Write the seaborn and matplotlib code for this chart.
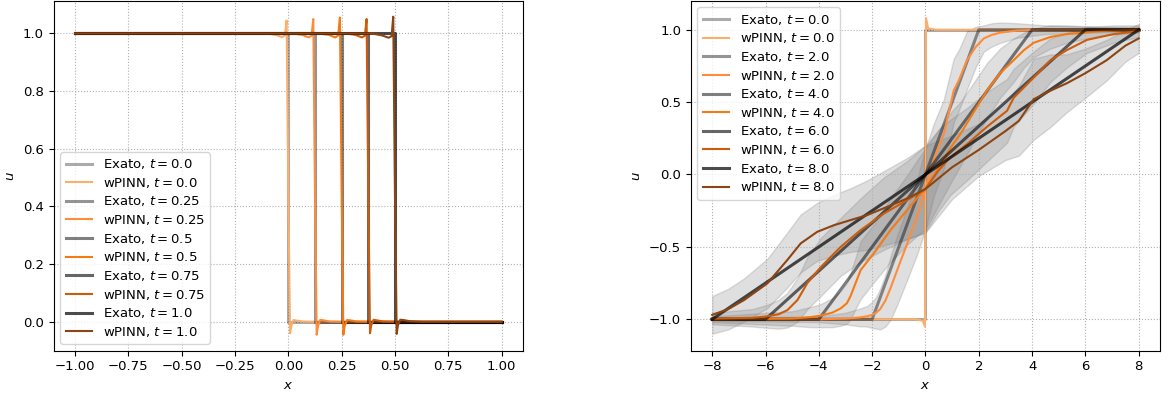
import matplotlib
matplotlib.use("Agg")
import matplotlib.pyplot as plt
import seaborn as sns

plt.rcParams["font.size"] = 9.5

# --- left panel: shock (t = 0 .. 1) ---
t_left = ["0.0", "0.25", "0.5", "0.75", "1.0"]
shock_pos = [0.0, 0.125, 0.25, 0.375, 0.5]

# wPINN curves
xw_left = [
    [-1.0, -0.10, -0.06, -0.03, -0.016, -0.008, 0.0, 0.008, 0.014, 0.024, 0.04, 0.07, 0.12, 1.0],
    [-1.0, 0.02, 0.065, 0.095, 0.109, 0.117, 0.125, 0.133, 0.139, 0.15, 0.165, 0.195, 0.25, 1.0],
    [-1.0, 0.14, 0.19, 0.22, 0.234, 0.242, 0.25, 0.258, 0.264, 0.275, 0.29, 0.32, 0.38, 1.0],
    [-1.0, 0.27, 0.315, 0.345, 0.359, 0.367, 0.375, 0.383, 0.389, 0.40, 0.415, 0.445, 0.5, 1.0],
    [-1.0, 0.39, 0.44, 0.47, 0.484, 0.492, 0.50, 0.508, 0.514, 0.525, 0.54, 0.57, 0.63, 1.0],
]
uw_left = [
    [1.0, 1.0, 0.995, 0.987, 0.993, 1.045, 0.45, -0.04, -0.015, 0.006, 0.004, 0.001, 0.0, 0.0],
    [1.0, 1.0, 0.995, 0.986, 0.992, 1.05, 0.45, -0.045, -0.015, 0.007, 0.005, 0.001, 0.0, 0.0],
    [1.0, 1.0, 0.995, 0.986, 0.993, 1.055, 0.45, -0.045, -0.015, 0.006, 0.005, 0.001, 0.0, 0.0],
    [1.0, 1.0, 0.995, 0.986, 0.992, 1.05, 0.45, -0.04, -0.012, 0.007, 0.005, 0.001, 0.0, 0.0],
    [1.0, 1.0, 0.993, 0.985, 0.99, 1.058, 0.45, -0.042, -0.012, 0.007, 0.006, 0.002, 0.0, 0.0],
]

# --- right panel: rarefaction (t = 0 .. 8) ---
t_right = ["0.0", "2.0", "4.0", "6.0", "8.0"]
fan_edge = [0.0, 2.0, 4.0, 6.0, 8.0]

xw_right = [
    [-8, -0.4, -0.1, -0.02, 0.02, 0.1, 0.4, 8],
    [-8, -4, -3, -2.5, -2.2, -2.0, -1.85, -1.7, -1.5, -1.3, -1.06, -0.69, -0.31, 0.0, 0.31, 0.69,
     1.06, 1.25, 1.56, 1.88, 2.19, 2.5, 2.81, 3.44, 4.5, 8],
    [-8, -5, -4.3, -3.93, -3.5, -3.18, -2.95, -2.81, -2.6, -2.43, -1.94, -1.31, -0.69, -0.3, 0.0,
     0.5, 1.0, 1.31, 1.94, 2.31, 2.8, 3.31, 3.7, 4.06, 4.69, 5.31, 6.56, 8],
    [-8, -6.5, -5.93, -5.5, -5.18, -4.8, -4.43, -3.93, -3.18, -2.43, -1.56, -0.69, 0.0, 0.5, 0.94,
     1.56, 2.31, 3.06, 3.31, 4.06, 4.69, 5.31, 6.06, 7.06, 8],
    [-8, -7.4, -6.8, -5.93, -5.18, -4.68, -4.06, -3.43, -2.81, -2.18, -1.43, -0.69, 0.0, 1.0, 2.0,
     3.0, 3.5, 4.06, 4.7, 5.3, 6.0, 6.8, 7.5, 8],
]
uw_right = [
    [-1.0, -1.0, -1.01, -1.05, 1.08, 1.01, 1.0, 1.0],
    [-1.0, -1.0, -0.995, -0.988, -0.98, -0.97, -0.955, -0.93, -0.87, -0.78, -0.66, -0.48, -0.29,
     -0.10, 0.10, 0.28, 0.58, 0.65, 0.79, 0.88, 0.94, 0.965, 0.98, 0.995, 1.0, 1.0],
    [-1.0, -0.995, -0.985, -0.975, -0.955, -0.925, -0.89, -0.84, -0.74, -0.66, -0.545, -0.384,
     -0.246, -0.16, -0.10, 0.05, 0.20, 0.28, 0.47, 0.58, 0.70, 0.79, 0.86, 0.91, 0.95, 0.97,
     0.99, 1.0],
    [-0.995, -0.99, -0.98, -0.965, -0.937, -0.867, -0.75, -0.64, -0.50, -0.384, -0.27, -0.177,
     -0.10, 0.03, 0.12, 0.21, 0.33, 0.44, 0.53, 0.67, 0.79, 0.86, 0.93, 0.97, 0.99],
    [-0.97, -0.93, -0.867, -0.752, -0.59, -0.476, -0.396, -0.35, -0.315, -0.28, -0.223, -0.166,
     -0.10, 0.05, 0.17, 0.30, 0.37, 0.52, 0.58, 0.63, 0.70, 0.79, 0.89, 0.94],
]
# half-width of the grey uncertainty band around each wPINN curve
hw_right = [
    [0.0, 0.0, 0.01, 0.02, 0.02, 0.01, 0.0, 0.0],
    [0.01, 0.02, 0.04, 0.06, 0.07, 0.09, 0.11, 0.14, 0.18, 0.22, 0.24, 0.25, 0.26, 0.28, 0.25,
     0.24, 0.22, 0.21, 0.2, 0.14, 0.09, 0.08, 0.07, 0.05, 0.03, 0.01],
    [0.02, 0.05, 0.07, 0.08, 0.1, 0.12, 0.14, 0.16, 0.18, 0.2, 0.2, 0.22, 0.24, 0.26, 0.28, 0.26,
     0.24, 0.22, 0.2, 0.19, 0.17, 0.15, 0.12, 0.1, 0.08, 0.06, 0.03, 0.02],
    [0.04, 0.06, 0.08, 0.1, 0.12, 0.15, 0.18, 0.2, 0.2, 0.22, 0.25, 0.27, 0.3, 0.28, 0.26, 0.25,
     0.24, 0.22, 0.2, 0.18, 0.15, 0.12, 0.09, 0.06, 0.04],
    [0.13, 0.14, 0.15, 0.17, 0.19, 0.2, 0.2, 0.21, 0.22, 0.24, 0.26, 0.28, 0.3, 0.22, 0.18, 0.2,
     0.24, 0.28, 0.25, 0.2, 0.17, 0.14, 0.11, 0.1],
]

exact_alpha = [0.33, 0.42, 0.5, 0.6, 0.7]
wpinn_colors = ["#fdae6b", "#fd8d3c", "#f57a14", "#cc5c0c", "#8c4512"]

fig, axes = plt.subplots(1, 2, figsize=(11.68, 3.94), dpi=100)
fig.subplots_adjust(left=0.046, right=0.9932, bottom=0.11, top=0.998, wspace=0.358)

# left
ax = axes[0]
for i, t in enumerate(t_left):
    s = shock_pos[i]
    sns.lineplot(x=[-1.0, s, s, 1.0], y=[1.0, 1.0, 0.0, 0.0], ax=ax, estimator=None, sort=False,
                 color="k", alpha=exact_alpha[i], lw=2.2, label=f"Exato, $t = {t}$")
    sns.lineplot(x=xw_left[i], y=uw_left[i], ax=ax, estimator=None, sort=False,
                 color=wpinn_colors[i], lw=1.5, label=f"wPINN, $t = {t}$")
ax.legend(loc="lower left", labelspacing=0.35)

# right
ax = axes[1]
for i, t in enumerate(t_right):
    e = fan_edge[i]
    lo = [u - h for u, h in zip(uw_right[i], hw_right[i])]
    hi = [u + h for u, h in zip(uw_right[i], hw_right[i])]
    if i > 0:
        ax.fill_between(xw_right[i], lo, hi, color="grey", alpha=0.25)
    sns.lineplot(x=[-8.0, -e, e, 8.0], y=[-1.0, -1.0, 1.0, 1.0], ax=ax, estimator=None, sort=False,
                 color="k", alpha=exact_alpha[i], lw=2.2, label=f"Exato, $t = {t}$")
    sns.lineplot(x=xw_right[i], y=uw_right[i], ax=ax, estimator=None, sort=False,
                 color=wpinn_colors[i], lw=1.5, label=f"wPINN, $t = {t}$")
ax.legend(loc="upper left", labelspacing=0.35)
ax.set_ylim(-1.217, 1.2)

for ax in axes:
    ax.set_xlabel("$x$")
    ax.set_ylabel("$u$")
    ax.grid(True, ls=":", lw=0.8, color="#b0b0b0")

plt.savefig("out.png", dpi=100)
